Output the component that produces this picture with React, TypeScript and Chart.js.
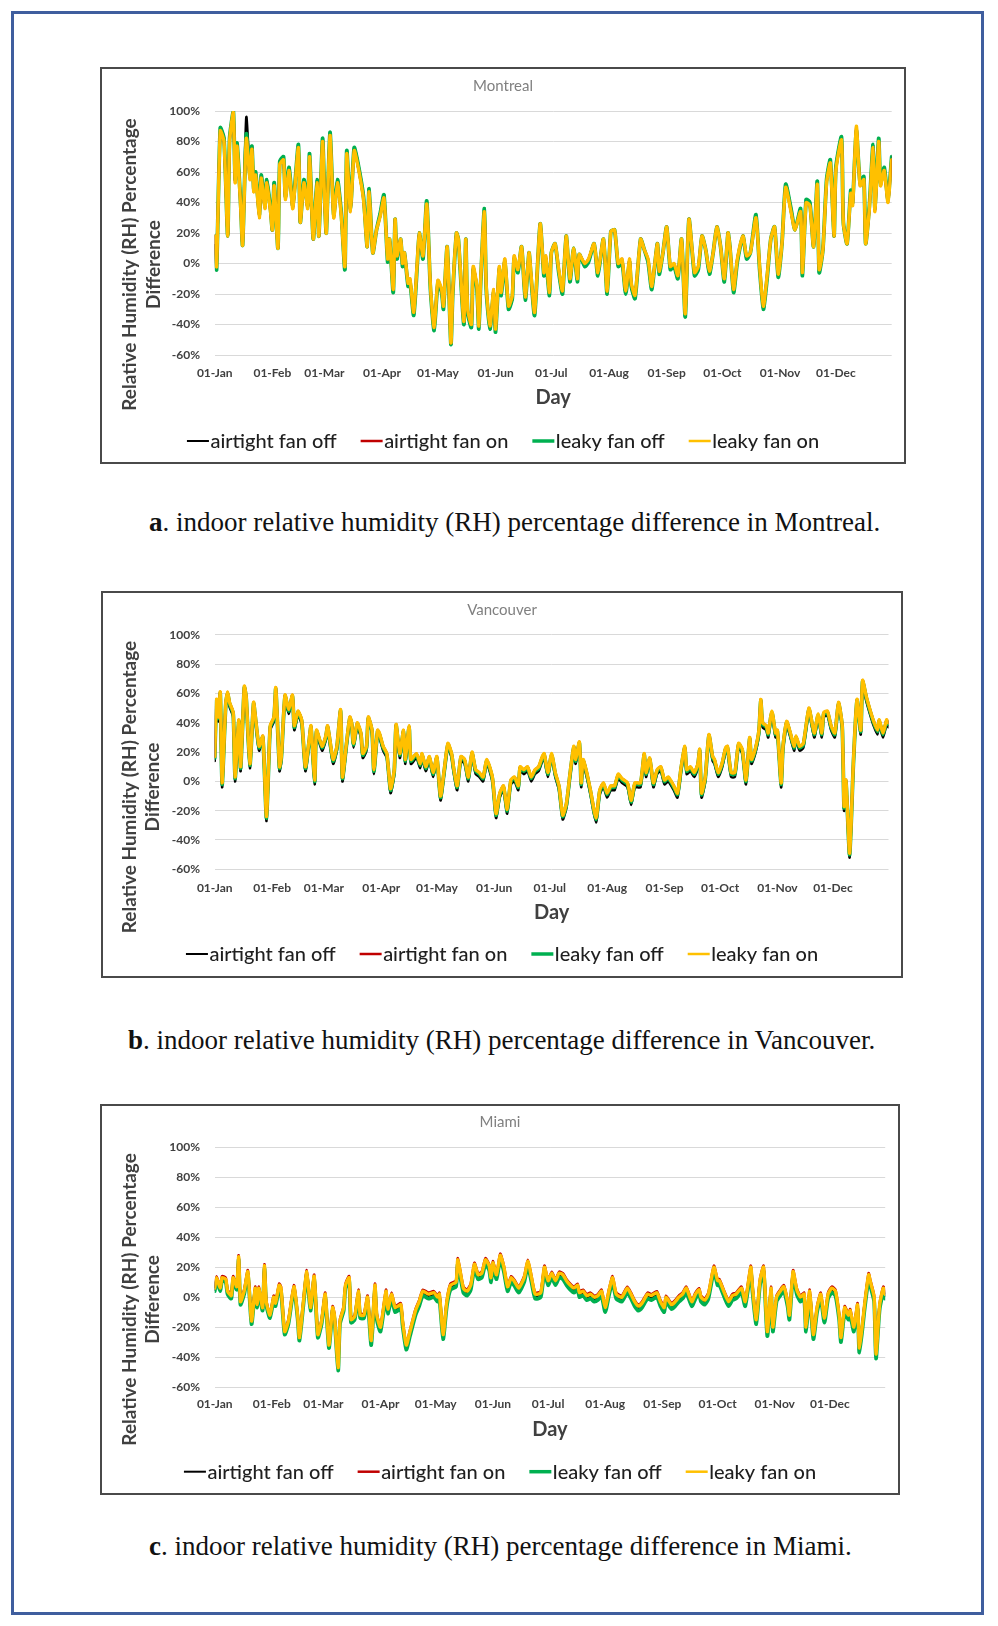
import React, { useEffect, useRef } from "react";
import { Chart, registerables } from "chart.js";

Chart.register(...registerables);

// ---------- axis / legend text ----------
const MONTH_STARTS = [0, 31, 59, 90, 120, 151, 181, 212, 243, 273, 304, 334];
const MONTH_LABELS = ["01-Jan", "01-Feb", "01-Mar", "01-Apr", "01-May", "01-Jun", "01-Jul", "01-Aug", "01-Sep", "01-Oct", "01-Nov", "01-Dec"];
const SERIES_NAMES = ["airtight fan off", "airtight fan on", "leaky fan off", "leaky fan on"];
const Y_TITLE = ["Relative Humidity (RH) Percentage", "Difference"];
const X_TITLE = "Day";

// ---------- Montreal ----------
const MONTREAL_DAYS = [
  0, 1, 3, 5, 7, 8, 10, 11, 12, 14, 15, 17, 19, 20, 21, 22, 24, 25, 27, 28,
  30, 31, 32, 34, 35, 37, 38, 40, 42, 45, 46, 48, 50, 51, 53, 55, 56, 58, 59, 60,
  62, 64, 66, 68, 70, 71, 73, 75, 77, 80, 82, 83, 85, 87, 89, 91, 93, 94, 96, 97,
  98, 100, 101, 102, 104, 105, 107, 109, 110, 112, 114, 116, 118, 120, 122, 123, 125, 127, 128, 130,
  131, 132, 134, 135, 136, 138, 139, 141, 142, 143, 145, 146, 148, 150, 151, 153, 154, 156, 158, 160,
  161, 163, 165, 167, 169, 170, 172, 175, 177, 178, 180, 181, 183, 185, 187, 189, 191, 193, 195, 196,
  199, 201, 204, 206, 209, 211, 213, 215, 217, 219, 221, 223, 224, 226, 229, 231, 233, 235, 238, 239,
  241, 243, 245, 247, 249, 251, 253, 255, 258, 260, 262, 264, 266, 268, 270, 272, 274, 276, 277, 279,
  281, 284, 286, 288, 291, 293, 295, 297, 299, 301, 303, 305, 307, 310, 312, 315, 316, 318, 320, 322,
  324, 325, 327, 329, 331, 333, 334, 337, 338, 340, 342, 343, 345, 347, 349, 350, 352, 354, 355, 357,
  358, 360, 362, 364,
];
const MONTREAL_LEAKY_ON = [
  18, -2, 87, 80, 18, 80, 99, 53, 77, 36, 12, 82, 55, 75, 47, 58, 30, 56, 36, 53,
  34, 22, 51, 10, 65, 68, 42, 61, 36, 76, 27, 53, 36, 70, 16, 53, 18, 80, 45, 20,
  84, 30, 53, 32, -2, 72, 34, 74, 64, 42, 11, 47, 7, 22, 31, 43, 3, 16, -17, 29,
  5, 16, 0, 7, -13, -10, -32, 3, 20, 5, 39, -15, -42, -11, -17, -28, 11, -52, -18, 20,
  16, -2, -38, 16, -30, -40, -2, -15, -41, -11, 34, -15, -41, -17, -43, -2, -19, 3, -28, -21,
  5, -4, 11, -22, 7, -6, -32, 26, -6, 5, -19, 7, 13, -4, -18, 18, -10, 10, -10, 6,
  0, 3, 13, -6, 16, -18, 21, 22, 0, 3, -18, 3, -13, -21, 16, 9, 3, -15, 13, -5,
  7, 24, -2, 0, -8, 16, -33, 29, -6, -2, 18, 9, -5, 7, 24, 11, -10, 20, 11, -17,
  3, 18, 5, 7, 30, -2, -28, -8, 16, 24, -7, 13, 50, 33, 22, 34, -6, 40, 38, 11,
  52, -4, 9, 53, 66, 18, 61, 81, 27, 13, 46, 38, 90, 51, 55, 13, 36, 76, 34, 80,
  51, 61, 40, 68,
];
const MONTREAL_LEAKY_OFF = [
  18, -4, 89, 82, 18, 82, 100, 55, 79, 38, 12, 85, 57, 77, 49, 60, 32, 58, 38, 55,
  36, 22, 53, 10, 67, 70, 44, 63, 38, 78, 27, 55, 38, 72, 16, 55, 18, 82, 47, 20,
  86, 32, 55, 34, -4, 74, 36, 76, 66, 44, 11, 49, 7, 22, 33, 45, 1, 16, -19, 29,
  3, 16, -2, 7, -15, -12, -34, 1, 20, 3, 41, -17, -44, -13, -19, -30, 11, -53, -20, 20,
  16, -4, -40, 16, -32, -42, -4, -17, -43, -13, 36, -17, -43, -19, -45, -4, -21, 1, -30, -23,
  3, -6, 11, -24, 7, -8, -34, 26, -8, 3, -21, 7, 13, -6, -20, 18, -12, 10, -12, 6,
  -2, 1, 13, -8, 16, -20, 21, 22, -2, 1, -20, 1, -15, -23, 16, 9, 1, -17, 13, -7,
  7, 24, -4, -2, -10, 16, -35, 29, -8, -4, 18, 9, -7, 7, 24, 11, -12, 20, 11, -19,
  1, 18, 3, 7, 32, -4, -30, -10, 16, 24, -9, 13, 52, 35, 22, 36, -8, 42, 40, 11,
  54, -6, 9, 55, 68, 18, 63, 83, 27, 13, 48, 40, 87, 53, 57, 13, 38, 78, 36, 82,
  53, 63, 42, 70,
];
const MONTREAL_AIRTIGHT_OFF = [
  12, -4, 89, 82, 18, 82, 100, 55, 79, 38, 12, 96, 57, 77, 49, 60, 32, 58, 38, 55,
  36, 22, 53, 10, 67, 70, 44, 63, 38, 78, 27, 55, 38, 72, 16, 55, 18, 82, 47, 20,
  86, 32, 55, 34, -4, 74, 36, 76, 66, 44, 11, 49, 7, 22, 33, 45, 1, 16, -19, 29,
  3, 16, -2, 7, -15, -12, -34, 1, 20, 3, 41, -17, -44, -13, -19, -30, 11, -53, -20, 20,
  16, -4, -40, 16, -32, -42, -4, -17, -43, -13, 36, -17, -43, -19, -45, -4, -21, 1, -30, -23,
  3, -6, 11, -24, 7, -8, -34, 26, -8, 3, -21, 7, 13, -6, -20, 18, -12, 10, -12, 6,
  -2, 1, 13, -8, 16, -20, 21, 22, -2, 1, -20, 1, -15, -23, 16, 9, 1, -17, 13, -7,
  7, 24, -4, -2, -10, 16, -35, 29, -8, -4, 18, 9, -7, 7, 24, 11, -12, 20, 11, -19,
  1, 18, 3, 7, 32, -4, -30, -10, 16, 24, -9, 13, 52, 35, 22, 36, -8, 42, 40, 11,
  54, -6, 9, 55, 68, 18, 63, 83, 27, 13, 48, 40, 87, 53, 57, 13, 38, 78, 36, 82,
  53, 63, 42, 70,
];
const MONTREAL_AIRTIGHT_ON = [
  18, -2, 87, 80, 18, 80, 99, 53, 77, 36, 12, 82, 55, 75, 47, 58, 30, 56, 36, 53,
  34, 22, 51, 10, 65, 68, 42, 61, 36, 76, 27, 53, 36, 70, 16, 53, 18, 80, 45, 20,
  84, 30, 53, 32, -2, 72, 34, 74, 64, 42, 11, 47, 7, 22, 31, 43, 3, 16, -17, 29,
  5, 16, 0, 7, -13, -10, -32, 3, 20, 5, 39, -15, -42, -11, -17, -28, 11, -52, -18, 20,
  16, -2, -38, 16, -30, -40, -2, -15, -41, -11, 34, -15, -41, -17, -43, -2, -19, 3, -28, -21,
  5, -4, 11, -22, 7, -6, -32, 26, -6, 5, -19, 7, 13, -4, -18, 18, -10, 10, -10, 6,
  0, 3, 13, -6, 16, -18, 21, 22, 0, 3, -18, 3, -13, -21, 16, 9, 3, -15, 13, -5,
  7, 24, -2, 0, -8, 16, -33, 29, -6, -2, 18, 9, -5, 7, 24, 11, -10, 20, 11, -17,
  3, 18, 5, 7, 30, -2, -28, -8, 16, 24, -7, 13, 50, 33, 22, 34, -6, 40, 38, 11,
  52, -4, 9, 53, 66, 18, 61, 81, 27, 13, 46, 38, 90, 51, 55, 13, 36, 76, 34, 80,
  51, 61, 40, 68,
];

// ---------- Vancouver ----------
const VANCOUVER_DAYS = [
  0, 1, 2, 3, 4, 6, 7, 8, 10, 11, 13, 14, 16, 17, 19, 21, 22, 24, 26, 28,
  30, 32, 33, 35, 36, 38, 40, 42, 43, 45, 47, 49, 51, 52, 54, 55, 58, 60, 61, 64,
  66, 68, 69, 71, 73, 74, 75, 77, 79, 80, 82, 83, 85, 86, 88, 89, 91, 93, 95, 97,
  98, 100, 102, 103, 105, 106, 109, 111, 112, 114, 116, 118, 120, 122, 124, 126, 128, 129, 131, 133,
  135, 137, 139, 141, 143, 145, 147, 150, 152, 154, 156, 158, 160, 162, 164, 165, 167, 169, 171, 173,
  175, 177, 178, 180, 182, 184, 186, 188, 190, 192, 194, 195, 197, 198, 199, 201, 203, 206, 208, 210,
  212, 214, 216, 218, 220, 223, 225, 227, 230, 232, 233, 235, 237, 239, 241, 243, 245, 248, 250, 252,
  254, 255, 257, 259, 261, 262, 263, 265, 267, 269, 270, 272, 274, 276, 277, 279, 281, 283, 285, 287,
  289, 290, 292, 294, 295, 296, 298, 299, 301, 303, 304, 306, 307, 309, 311, 313, 314, 316, 318, 321,
  323, 324, 326, 328, 329, 331, 333, 335, 337, 339, 340, 341, 343, 345, 347, 349, 350, 352, 354, 356,
  358, 359, 361, 363, 364,
];
const VANCOUVER_LEAKY_ON = [
  17, 56, 44, 61, -1, 54, 61, 54, 47, 3, 42, 10, 65, 58, 12, 54, 44, 24, 31, -24,
  38, 44, 64, 10, 17, 59, 49, 59, 38, 48, 42, 10, 28, 38, 1, 35, 24, 31, 38, 15,
  24, 49, 3, 24, 44, 40, 26, 40, 33, 19, 24, 44, 35, 8, 35, 33, 24, 19, -5, 8,
  39, 19, 35, 15, 38, 15, 19, 12, 19, 10, 17, 6, 17, -10, 8, 26, 19, 10, -3, 17,
  15, 3, 20, 8, 6, 3, 15, 3, -22, -8, -3, -19, 1, 3, -3, 10, 8, 10, 3, 8,
  10, 17, 19, 6, 19, 6, -3, -23, -15, 6, 24, 15, 27, -1, 15, 6, -6, -25, -6, -1,
  -8, -3, -3, 5, 2, -1, -13, -1, -1, 19, 6, 16, -1, 8, 10, 1, 3, -3, -8, 10,
  24, 8, 10, 6, 12, 22, -8, 3, 32, 17, 15, 6, 12, 23, 24, 6, 6, 26, 22, 1,
  30, 15, 22, 35, 56, 40, 38, 33, 48, 33, 35, -1, 24, 41, 33, 24, 31, 24, 26, 50,
  38, 33, 46, 33, 47, 48, 38, 33, 54, 38, -17, 1, -49, 12, 56, 35, 69, 58, 49, 41,
  35, 42, 33, 42, 40,
];
const VANCOUVER_LEAKY_OFF = [
  16, 55, 43, 60, -2, 53, 60, 53, 46, 2, 41, 9, 64, 57, 11, 53, 43, 23, 30, -25,
  37, 43, 63, 9, 16, 58, 48, 58, 37, 47, 41, 9, 27, 37, 0, 34, 23, 30, 37, 14,
  23, 48, 2, 23, 43, 39, 25, 39, 32, 18, 23, 43, 34, 7, 34, 32, 23, 18, -6, 7,
  38, 18, 34, 14, 37, 14, 18, 11, 18, 9, 16, 5, 16, -11, 7, 25, 18, 9, -4, 16,
  14, 2, 19, 7, 5, 2, 14, 2, -23, -9, -4, -20, 0, 2, -4, 9, 7, 9, 2, 7,
  9, 16, 18, 5, 18, 5, -4, -24, -16, 5, 23, 14, 26, -2, 14, 5, -7, -26, -7, -2,
  -9, -4, -4, 4, 1, -2, -14, -2, -2, 18, 5, 15, -2, 7, 9, 0, 2, -4, -9, 9,
  23, 7, 9, 5, 11, 21, -9, 2, 31, 16, 14, 5, 11, 22, 23, 5, 5, 25, 21, 0,
  29, 14, 21, 34, 55, 39, 37, 32, 47, 32, 34, -2, 23, 40, 32, 23, 30, 23, 25, 49,
  37, 32, 45, 32, 46, 47, 37, 32, 53, 37, -18, 0, -50, 11, 55, 34, 68, 57, 48, 40,
  34, 41, 32, 41, 39,
];
const VANCOUVER_AIRTIGHT_OFF = [
  14, 53, 41, 58, -4, 51, 58, 51, 44, 0, 39, 7, 62, 55, 9, 51, 41, 21, 28, -27,
  35, 41, 61, 7, 14, 56, 46, 56, 35, 45, 39, 7, 25, 35, -2, 32, 21, 28, 35, 12,
  21, 46, 0, 21, 41, 37, 23, 37, 30, 16, 21, 41, 32, 5, 32, 30, 21, 16, -8, 5,
  36, 16, 32, 12, 35, 12, 16, 9, 16, 7, 14, 3, 14, -13, 5, 23, 16, 7, -6, 14,
  12, 0, 17, 5, 3, 0, 12, 0, -25, -11, -6, -22, -2, 0, -6, 7, 5, 7, 0, 5,
  7, 14, 16, 3, 16, 3, -6, -26, -18, 3, 21, 12, 24, -4, 12, 3, -9, -28, -9, -4,
  -11, -6, -6, 2, -1, -4, -16, -4, -4, 16, 3, 13, -4, 5, 7, -2, 0, -6, -11, 7,
  21, 5, 7, 3, 9, 19, -11, 0, 29, 14, 12, 3, 9, 20, 21, 3, 3, 23, 19, -2,
  27, 12, 19, 32, 53, 37, 35, 30, 45, 30, 32, -4, 21, 38, 30, 21, 28, 21, 23, 47,
  35, 30, 43, 30, 44, 45, 35, 30, 51, 35, -20, -2, -52, 9, 53, 32, 66, 55, 46, 38,
  32, 39, 30, 39, 37,
];
const VANCOUVER_AIRTIGHT_ON = [
  17, 56, 44, 61, -1, 54, 61, 54, 47, 3, 42, 10, 65, 58, 12, 54, 44, 24, 31, -24,
  38, 44, 64, 10, 17, 59, 49, 59, 38, 48, 42, 10, 28, 38, 1, 35, 24, 31, 38, 15,
  24, 49, 3, 24, 44, 40, 26, 40, 33, 19, 24, 44, 35, 8, 35, 33, 24, 19, -5, 8,
  39, 19, 35, 15, 38, 15, 19, 12, 19, 10, 17, 6, 17, -10, 8, 26, 19, 10, -3, 17,
  15, 3, 20, 8, 6, 3, 15, 3, -22, -8, -3, -19, 1, 3, -3, 10, 8, 10, 3, 8,
  10, 17, 19, 6, 19, 6, -3, -23, -15, 6, 24, 15, 27, -1, 15, 6, -6, -25, -6, -1,
  -8, -3, -3, 5, 2, -1, -13, -1, -1, 19, 6, 16, -1, 8, 10, 1, 3, -3, -8, 10,
  24, 8, 10, 6, 12, 22, -8, 3, 32, 17, 15, 6, 12, 23, 24, 6, 6, 26, 22, 1,
  30, 15, 22, 35, 56, 40, 38, 33, 48, 33, 35, -1, 24, 41, 33, 24, 31, 24, 26, 50,
  38, 33, 46, 33, 47, 48, 38, 33, 54, 38, -17, 1, -49, 12, 56, 35, 69, 58, 49, 41,
  35, 42, 33, 42, 40,
];

// ---------- Miami ----------
const MIAMI_DAYS = [
  0, 1, 3, 4, 6, 7, 9, 10, 12, 13, 14, 16, 18, 20, 22, 23, 24, 26, 27, 28,
  30, 32, 33, 35, 36, 38, 40, 43, 45, 46, 48, 50, 52, 54, 56, 58, 60, 62, 64, 65,
  67, 68, 70, 71, 73, 74, 76, 78, 79, 81, 83, 85, 87, 88, 90, 93, 94, 96, 98, 101,
  102, 104, 106, 109, 111, 113, 116, 119, 121, 122, 124, 126, 128, 131, 132, 135, 137, 139, 141, 143,
  145, 147, 149, 150, 151, 153, 155, 157, 159, 161, 163, 165, 168, 170, 172, 174, 177, 179, 181, 183,
  185, 187, 189, 191, 193, 195, 197, 198, 200, 202, 204, 206, 208, 210, 212, 214, 216, 218, 221, 224,
  226, 228, 230, 232, 235, 237, 240, 242, 244, 245, 248, 250, 252, 254, 256, 259, 261, 263, 264, 266,
  268, 271, 273, 274, 277, 279, 281, 283, 286, 288, 291, 292, 294, 296, 298, 300, 302, 303, 305, 307,
  309, 311, 312, 314, 316, 318, 320, 321, 323, 325, 327, 329, 331, 333, 335, 337, 339, 340, 342, 344,
  345, 347, 349, 350, 353, 355, 356, 358, 359, 361, 363, 364,
];
const MIAMI_LEAKY_ON = [
  6, 13, 6, 13, 12, 4, 1, 13, 7, 27, -3, 4, 17, -16, 6, -5, 6, -7, 21, -3,
  -12, 0, -4, 8, 6, -23, -16, 7, -12, -27, -5, 17, -7, 14, -25, -16, 2, -32, -7, -12,
  -47, -16, -7, 8, 13, -15, -13, 4, -12, -12, 0, -29, 8, -12, -20, 4, -8, 2, -7, -5,
  -16, -32, -23, -9, -3, 4, 2, 3, 0, 2, -25, -3, 8, 10, 25, 6, 4, 8, 22, 15,
  16, 25, 21, 13, 23, 15, 28, 20, 7, 13, 10, 6, 13, 24, 13, 2, 3, 20, 11, 16,
  11, 16, 15, 11, 8, 6, 8, 3, 4, 1, 2, 0, 1, 4, -7, 4, 13, 2, 0, 6,
  2, -3, -6, -4, 2, 1, 3, -3, -7, 0, -5, -3, 0, 2, 6, -3, 2, 5, 0, -2,
  2, 20, 11, 11, 2, -3, 1, 2, 6, -3, 20, 6, -15, 11, 20, -23, 6, -20, 0, 4,
  7, -3, -12, 17, 5, 0, 2, -20, 4, -25, -7, 2, -14, 2, 6, 4, -12, -27, -7, -12,
  -9, -20, -5, -34, -3, 15, 10, 0, -38, -5, 6, 2,
];
const MIAMI_LEAKY_OFF = [
  4, 11, 4, 11, 10, 2, -1, 11, 5, 25, -5, 2, 15, -18, 4, -7, 4, -9, 19, -5,
  -14, -2, -6, 6, 4, -25, -18, 5, -14, -29, -7, 15, -9, 12, -27, -18, 0, -34, -9, -14,
  -49, -18, -9, 6, 11, -17, -15, 2, -14, -14, -3, -32, 5, -15, -23, 1, -11, -1, -10, -8,
  -19, -35, -26, -12, -6, 1, -1, 0, -3, -1, -28, -6, 5, 7, 22, 3, 1, 5, 19, 12,
  13, 22, 18, 10, 20, 12, 25, 17, 4, 10, 7, 3, 10, 21, 10, -1, 0, 17, 8, 13,
  8, 13, 12, 8, 5, 3, 5, 0, 1, -2, -1, -3, -2, 1, -10, 1, 10, -1, -3, 3,
  -1, -6, -9, -7, -1, -2, 0, -6, -10, -3, -8, -6, -3, -1, 3, -6, -1, 2, -3, -5,
  -1, 17, 8, 8, -1, -6, -2, -1, 3, -6, 17, 3, -18, 8, 17, -26, 3, -23, -3, 1,
  4, -6, -15, 14, 2, -3, -1, -23, 1, -28, -10, -1, -17, -1, 3, 1, -15, -30, -10, -15,
  -12, -23, -8, -37, -6, 12, 7, -3, -41, -8, 3, -1,
];
const MIAMI_AIRTIGHT_OFF = [
  5, 12, 5, 12, 11, 3, 0, 12, 6, 26, -4, 3, 16, -17, 5, -6, 5, -8, 20, -4,
  -13, -1, -5, 7, 5, -24, -17, 6, -13, -28, -6, 16, -8, 13, -26, -17, 1, -33, -8, -13,
  -48, -17, -8, 7, 12, -16, -14, 3, -13, -13, -1, -30, 7, -13, -21, 3, -9, 1, -8, -6,
  -17, -33, -24, -10, -4, 3, 1, 2, -1, 1, -26, -4, 7, 9, 24, 5, 3, 7, 21, 14,
  15, 24, 20, 12, 22, 14, 27, 19, 6, 12, 9, 5, 12, 23, 12, 1, 2, 19, 10, 15,
  10, 15, 14, 10, 7, 5, 7, 2, 3, 0, 1, -1, 0, 3, -8, 3, 12, 1, -1, 5,
  1, -4, -7, -5, 1, 0, 2, -4, -8, -1, -6, -4, -1, 1, 5, -4, 1, 4, -1, -3,
  1, 19, 10, 10, 1, -4, 0, 1, 5, -4, 19, 5, -16, 10, 19, -24, 5, -21, -1, 3,
  6, -4, -13, 16, 4, -1, 1, -21, 3, -26, -8, 1, -15, 1, 5, 3, -13, -28, -8, -13,
  -10, -21, -6, -35, -4, 14, 9, -1, -39, -6, 5, 1,
];
const MIAMI_AIRTIGHT_ON = [
  7, 14, 7, 14, 13, 5, 2, 14, 8, 28, -2, 5, 18, -15, 7, -4, 7, -6, 22, -2,
  -11, 1, -3, 9, 7, -22, -15, 8, -11, -26, -4, 18, -6, 15, -24, -15, 3, -31, -6, -11,
  -46, -15, -6, 9, 14, -14, -12, 5, -11, -11, 1, -28, 9, -11, -19, 5, -7, 3, -6, -4,
  -15, -31, -22, -8, -2, 5, 3, 4, 1, 3, -24, -2, 9, 11, 26, 7, 5, 9, 23, 16,
  17, 26, 22, 14, 24, 16, 29, 21, 8, 14, 11, 7, 14, 25, 14, 3, 4, 21, 12, 17,
  12, 17, 16, 12, 9, 7, 9, 4, 5, 2, 3, 1, 2, 5, -6, 5, 14, 3, 1, 7,
  3, -2, -5, -3, 3, 2, 4, -2, -6, 1, -4, -2, 1, 3, 7, -2, 3, 6, 1, -1,
  3, 21, 12, 12, 3, -2, 2, 3, 7, -2, 21, 7, -14, 12, 21, -22, 7, -19, 1, 5,
  8, -2, -11, 18, 6, 1, 3, -19, 5, -24, -6, 3, -13, 3, 7, 5, -11, -26, -6, -11,
  -8, -19, -4, -33, -2, 16, 11, 1, -37, -4, 7, 3,
];

// ---------- styles ----------
const SERIES_COLORS = ["#000000", "#C00000", "#00B050", "#FFC000"];
const SERIES_WIDTHS = [2.6, 2.6, 3.8, 3.4];
const SERIES_ORDER = [4, 2, 3, 1];
const LEGEND_WIDTHS = [2, 2.5, 3.5, 2.5];
const FONT = "Lato, 'Open Sans', sans-serif";
const TICK_COLOR = "#404040";

type Geom = {
  box: number[];
  plot: number[];
  titleY: number;
  tickY: number;
  dayY: number;
  legendY: number;
  yTitleX: number;
  yTitleY: number;
  captionX: number;
  captionY: number;
};

type PanelDef = {
  key: string;
  title: string;
  letter: string;
  caption: string;
  days: number[];
  series: number[][];
  geom: Geom;
};

const PANELS: PanelDef[] = [
  {
    key: "a",
    title: "Montreal",
    letter: "a",
    caption: ". indoor relative humidity (RH) percentage difference in Montreal.",
    days: MONTREAL_DAYS,
    series: [MONTREAL_AIRTIGHT_OFF, MONTREAL_AIRTIGHT_ON, MONTREAL_LEAKY_OFF, MONTREAL_LEAKY_ON],
    geom: {
      box: [100, 67, 806, 397],
      plot: [214.7, 111, 891.7, 355],
      titleY: 86,
      tickY: 373.5,
      dayY: 398,
      legendY: 441,
      yTitleX: 130,
      yTitleY: 264.5,
      captionX: 514.6,
      captionY: 522,
    },
  },
  {
    key: "b",
    title: "Vancouver",
    letter: "b",
    caption: ". indoor relative humidity (RH) percentage difference in Vancouver.",
    days: VANCOUVER_DAYS,
    series: [VANCOUVER_AIRTIGHT_OFF, VANCOUVER_AIRTIGHT_ON, VANCOUVER_LEAKY_OFF, VANCOUVER_LEAKY_ON],
    geom: {
      box: [101, 591, 802, 387],
      plot: [214.7, 634.9, 888.5, 869.3],
      titleY: 610,
      tickY: 888,
      dayY: 913,
      legendY: 954,
      yTitleX: 129.7,
      yTitleY: 787,
      captionX: 501.6,
      captionY: 1040,
    },
  },
  {
    key: "c",
    title: "Miami",
    letter: "c",
    caption: ". indoor relative humidity (RH) percentage difference in Miami.",
    days: MIAMI_DAYS,
    series: [MIAMI_AIRTIGHT_OFF, MIAMI_AIRTIGHT_ON, MIAMI_LEAKY_OFF, MIAMI_LEAKY_ON],
    geom: {
      box: [100, 1104, 800, 391],
      plot: [214.7, 1147.4, 885.2, 1387],
      titleY: 1122.5,
      tickY: 1404.6,
      dayY: 1429.5,
      legendY: 1471.7,
      yTitleX: 129.7,
      yTitleY: 1299.4,
      captionX: 500.5,
      captionY: 1546,
    },
  },
];

const panelDecor = {
  id: "panelDecor",
  afterDraw(chart: any, _args: any, opts: any) {
    const ctx = chart.ctx as CanvasRenderingContext2D;
    // rotated y-axis title (two lines)
    ctx.save();
    ctx.translate(opts.yTitleX, opts.yTitleY);
    ctx.rotate(-Math.PI / 2);
    ctx.font = `bold 19px ${FONT}`;
    ctx.fillStyle = TICK_COLOR;
    ctx.textAlign = "center";
    ctx.textBaseline = "middle";
    ctx.fillText(Y_TITLE[0], 0, 0);
    ctx.fillText(Y_TITLE[1], 0, 23.5);
    ctx.restore();

    // legend
    ctx.save();
    ctx.font = `500 20px ${FONT}`;
    const lineLen = 22;
    const gapText = 1.5;
    const itemGap = 24;
    const widths = SERIES_NAMES.map((n) => ctx.measureText(n).width);
    const total =
      widths.reduce((acc, w) => acc + lineLen + gapText + w, 0) + itemGap * (SERIES_NAMES.length - 1);
    let x = chart.width / 2 - total / 2;
    const y = opts.legendY;
    SERIES_NAMES.forEach((name, i) => {
      ctx.strokeStyle = SERIES_COLORS[i];
      ctx.lineWidth = LEGEND_WIDTHS[i];
      ctx.beginPath();
      ctx.moveTo(x, y);
      ctx.lineTo(x + lineLen, y);
      ctx.stroke();
      x += lineLen + gapText;
      ctx.fillStyle = "#1f1f1f";
      ctx.textAlign = "left";
      ctx.textBaseline = "middle";
      ctx.fillText(name, x, y + 0.5);
      x += widths[i] + itemGap;
    });
    ctx.restore();
  },
};

function Panel({ panel }: { panel: PanelDef }) {
  const ref = useRef<HTMLCanvasElement | null>(null);
  const g = panel.geom;
  const [bx, by, bw, bh] = g.box;

  useEffect(() => {
    if (!ref.current) return;
    const L = g.plot[0] - bx;
    const T = g.plot[1] - by;
    const R = g.plot[2] - bx;
    const B = g.plot[3] - by;
    const padRight = bw - R;
    const padLeft = padRight;
    const yWidth = L - padLeft;
    const titleLH = 18;
    const titlePadTop = g.titleY - by - titleLH / 2;
    const titlePadBottom = T - titlePadTop - titleLH;
    const tickPad = g.tickY - by - B - 7.2;
    const xHeight = g.dayY - by - B + 12;
    const padBottom = bh - B - xHeight;

    const datasets = panel.series.map((vals, i) => ({
      label: SERIES_NAMES[i],
      data: panel.days.map((d, k) => ({ x: d, y: vals[k] })),
      borderColor: SERIES_COLORS[i],
      backgroundColor: SERIES_COLORS[i],
      borderWidth: SERIES_WIDTHS[i],
      order: SERIES_ORDER[i],
      pointRadius: 0,
      pointHoverRadius: 0,
      tension: 0.2,
      fill: false,
      borderJoinStyle: "round" as const,
      borderCapStyle: "round" as const,
    }));

    const chart = new Chart(ref.current, {
      type: "line",
      data: { datasets },
      plugins: [panelDecor],
      options: {
        animation: false,
        responsive: false,
        devicePixelRatio: 1,
        events: [],
        layout: { padding: { left: padLeft, right: padRight, top: 0, bottom: padBottom } },
        plugins: {
          legend: { display: false },
          tooltip: { enabled: false },
          title: {
            display: true,
            text: panel.title,
            color: "#808080",
            font: { family: FONT, size: 15, weight: "normal", lineHeight: 1.2 },
            padding: { top: titlePadTop, bottom: titlePadBottom },
          },
          panelDecor: {
            yTitleX: g.yTitleX - bx,
            yTitleY: g.yTitleY - by,
            legendY: g.legendY - by,
          },
        } as any,
        scales: {
          x: {
            type: "linear",
            min: 0,
            max: 364,
            afterBuildTicks: (scale: any) => {
              scale.ticks = MONTH_STARTS.map((v) => ({ value: v }));
            },
            afterFit: (scale: any) => {
              scale.height = xHeight;
            },
            ticks: {
              autoSkip: false,
              maxRotation: 0,
              minRotation: 0,
              padding: tickPad,
              color: TICK_COLOR,
              font: { family: FONT, size: 12, weight: "bold", lineHeight: 1.2 },
              callback: (_v: any, idx: number) => MONTH_LABELS[idx] ?? "",
            },
            grid: { display: false, drawTicks: false },
            border: { display: false },
            title: {
              display: true,
              text: X_TITLE,
              color: TICK_COLOR,
              font: { family: FONT, size: 20, weight: "bold", lineHeight: 1.2 },
              padding: 0,
            },
          },
          y: {
            type: "linear",
            min: -60,
            max: 100,
            afterFit: (scale: any) => {
              scale.width = yWidth;
            },
            ticks: {
              stepSize: 20,
              padding: 14.7,
              color: TICK_COLOR,
              font: { family: FONT, size: 12, weight: "bold", lineHeight: 1.2 },
              callback: (v: any) => `${v}%`,
            },
            grid: { color: "#d9d9d9", lineWidth: 1, drawTicks: false },
            border: { display: false },
          },
        },
      } as any,
    });
    return () => chart.destroy();
  }, []);

  return (
    <>
      <div
        style={{
          position: "absolute",
          left: bx,
          top: by,
          width: bw,
          height: bh,
          boxSizing: "border-box",
          border: "2px solid #4a4a4a",
        }}
      />
      <canvas
        ref={ref}
        width={bw}
        height={bh}
        style={{ position: "absolute", left: bx, top: by, width: bw, height: bh, display: "block" }}
      />
      <div
        style={{
          position: "absolute",
          left: g.captionX - 500,
          top: g.captionY - 17,
          width: 1000,
          height: 34,
          lineHeight: "34px",
          textAlign: "center",
          fontFamily: "'Liberation Serif', 'Times New Roman', serif",
          fontSize: 27,
          color: "#111",
          whiteSpace: "nowrap",
        }}
      >
        <b>{panel.letter}</b>
        {panel.caption}
      </div>
    </>
  );
}

export default function App() {
  return (
    <div
      style={{
        position: "absolute",
        left: 0,
        top: 0,
        width: 998,
        height: 1626,
        background: "#ffffff",
        overflow: "hidden",
      }}
    >
      <div
        style={{
          position: "absolute",
          left: 11,
          top: 11,
          width: 973,
          height: 1604,
          boxSizing: "border-box",
          border: "3px solid #3F5E9E",
        }}
      />
      {PANELS.map((p) => (
        <Panel key={p.key} panel={p} />
      ))}
    </div>
  );
}
